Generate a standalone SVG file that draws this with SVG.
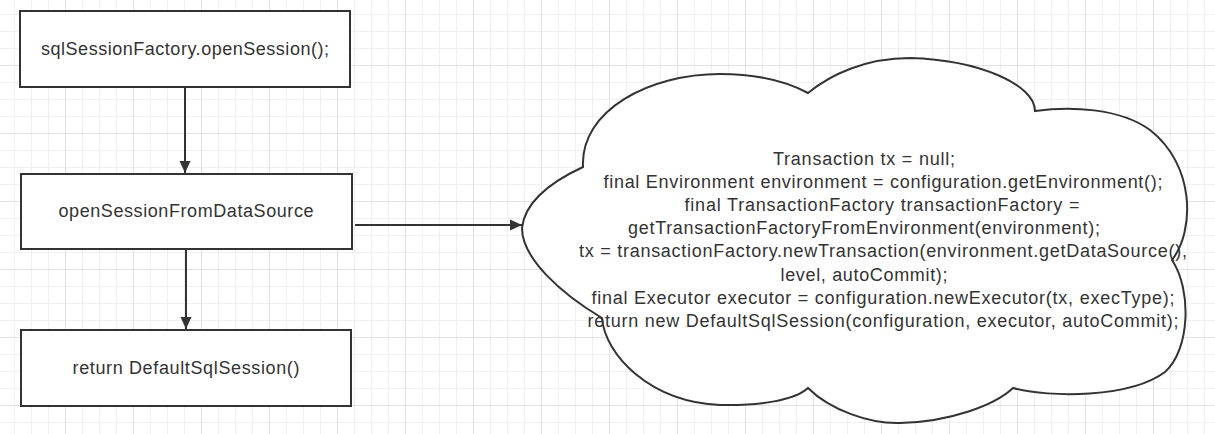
<svg xmlns="http://www.w3.org/2000/svg" width="1215" height="434" viewBox="0 0 1215 434">
<style>
.node rect{fill:#fff;stroke:#333;stroke-width:2}
.cloud{fill:#fff;stroke:#333;stroke-width:2;stroke-linejoin:miter}
text{font-family:"Liberation Sans",Arial,sans-serif;font-size:18px;fill:#333}
.conn{stroke:#333;stroke-width:2;fill:none}
.minor{stroke:#f0f0f0;stroke-width:1}
.major{stroke:#e2e2e2;stroke-width:1}
</style>
<defs>
<pattern id="grid" patternUnits="userSpaceOnUse" x="-3" y="-3" width="68" height="68">
<path class="minor" d="M17.5 0V68M34.5 0V68M51.5 0V68M0 17.5H68M0 34.5H68M0 51.5H68"/>
<path class="major" d="M0.5 0V68M0 0.5H68"/>
</pattern>
<marker id="arr" markerUnits="userSpaceOnUse" markerWidth="12" markerHeight="12" viewBox="0 0 12 12" refX="12" refY="6" orient="auto">
<path d="M0 0.5L12 6L0 11.5Z" fill="#333"/>
</marker>
</defs>
<rect width="1215" height="434" fill="#fff"/>
<rect width="1215" height="434" fill="url(#grid)"/>
<g id="connectors">
<path class="conn" d="M185 87V173" marker-end="url(#arr)"/>
<path class="conn" d="M186 249V329" marker-end="url(#arr)"/>
<path class="conn" d="M355 225H522" marker-end="url(#arr)"/>
</g>
<g id="node-open-session" class="node">
<rect x="20" y="11" width="330" height="76"/>
<text x="185" y="55" text-anchor="middle" textLength="288">sqlSessionFactory.openSession();</text>
</g>
<g id="node-from-datasource" class="node">
<rect x="21" y="174" width="331" height="75"/>
<text x="186" y="217" text-anchor="middle" textLength="255">openSessionFromDataSource</text>
</g>
<g id="node-return" class="node">
<rect x="21" y="330" width="330" height="76"/>
<text x="186" y="374" text-anchor="middle" textLength="227">return DefaultSqlSession()</text>
</g>
<g id="node-cloud">
<path class="cloud" d="M583 167C555 180 525 200 522 228C522 258 560 293 602 318C605 355 650 402 720 405C760 406 795 400 808 388C830 410 870 424 900 423C950 422 995 405 1013 388C1050 398 1130 398 1165 372C1190 350 1192 290 1172 260C1195 230 1195 165 1150 130C1120 108 1070 106 1035 111C1035 85 980 60 910 58C865 58 830 75 808 93C780 78 750 74 720 74C650 74 580 110 583 167Z"/>
<text x="864" y="165" text-anchor="middle" textLength="182">Transaction tx = null;</text>
<text x="883" y="188" text-anchor="middle" textLength="559">final Environment environment = configuration.getEnvironment();</text>
<text x="882" y="211" text-anchor="middle" textLength="395">final TransactionFactory transactionFactory =</text>
<text x="864" y="234" text-anchor="middle" textLength="472">getTransactionFactoryFromEnvironment(environment);</text>
<text x="883" y="257" text-anchor="middle" textLength="608">tx = transactionFactory.newTransaction(environment.getDataSource(),</text>
<text x="864" y="281" text-anchor="middle" textLength="167">level, autoCommit);</text>
<text x="883" y="304" text-anchor="middle" textLength="583">final Executor executor = configuration.newExecutor(tx, execType);</text>
<text x="883" y="327" text-anchor="middle" textLength="591">return new DefaultSqlSession(configuration, executor, autoCommit);</text>
</g>
</svg>
